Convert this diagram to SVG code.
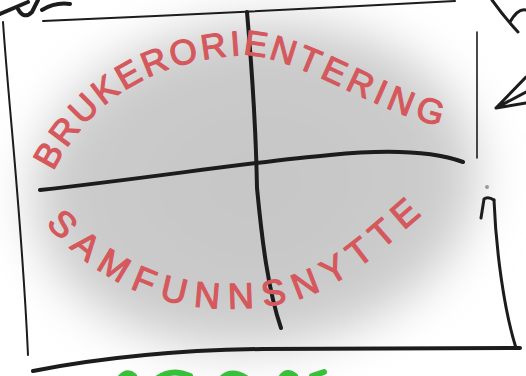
<svg xmlns="http://www.w3.org/2000/svg" width="526" height="376" viewBox="0 0 526 376">
  <style>
    .ink { fill: none; stroke: #1c1c1c; stroke-linecap: round; stroke-linejoin: round; }
    .thin { stroke-width: 2; }
    .mid { stroke-width: 3; }
    .thick { stroke-width: 4; }
    .label { font-family: "Liberation Sans", "DejaVu Sans", sans-serif; fill: #d5585c; stroke: #d5585c; stroke-width: 1.2; stroke-linejoin: round; font-size: 35px; dominant-baseline: central; }
    .green { fill: none; stroke: #38c03a; stroke-width: 6; stroke-linecap: round; }
  </style>
  <defs>
    <filter id="blur" x="-30%" y="-30%" width="160%" height="160%">
      <feGaussianBlur stdDeviation="24"/>
    </filter>
    <radialGradient id="greyGrad" cx="0.5" cy="0.5" r="0.5">
      <stop offset="0" stop-color="#c6c6c6"/>
      <stop offset="0.8" stop-color="#cbcbcb"/>
      <stop offset="1" stop-color="#d4d4d4"/>
    </radialGradient>
    <path id="arcTop" d="M 42,165 C 80,90 150,45 250,42 C 310,48 380,100 446,114"/>
    <path id="arcBottom" d="M 55,215 C 110,275 170,300 250,295 C 330,290 370,240 422,198"/>
  </defs>

  <rect width="526" height="376" fill="#ffffff"/>

  <!-- grey blurred ellipse -->
  <ellipse cx="255" cy="185" rx="225" ry="165" fill="url(#greyGrad)" filter="url(#blur)" transform="rotate(-6 255 185)"/>

  <!-- frame -->
  <g id="frame">
    <path class="ink thin" d="M 43,21 Q 250,12 455,1"/>
    <path class="ink thin" d="M 3,22 C 9,110 22,220 28,355"/>
    <path class="ink" style="stroke-width:1.6" d="M 477,32 L 477,158"/>
    <path class="ink mid" d="M 494,200 C 496,250 504,310 516,348"/>
    <path class="ink thick" d="M 33,371 C 100,358 180,350 263,349 L 520,348"/>
  </g>

  <!-- cross lines -->
  <g id="connectors">
    <path class="ink thick" d="M 247,12 C 252,70 256,130 257,188 C 262,240 268,290 281,328"/>
    <path class="ink thick" d="M 40,190 C 150,178 250,162 330,155 C 380,150 430,150 463,162"/>
  </g>

  <!-- labels -->
  <g id="brukerorientering">
    <text class="label" textLength="462" lengthAdjust="spacing"><textPath href="#arcTop">BRUKERORIENTERING</textPath></text>
  </g>
  <g id="samfunnsnytte">
    <text class="label" style="font-size:36px" textLength="410" lengthAdjust="spacing"><textPath href="#arcBottom">SAMFUNNSNYTTE</textPath></text>
  </g>

  <!-- fragments at edges -->
  <g id="fragments">
    <path class="ink thick" d="M 0,14 L 28,2 M 18,9 Q 24,20 32,12 L 38,0 M 42,10 Q 55,2 70,4"/>
    <path class="ink mid" d="M 492,0 Q 505,18 518,32 M 510,22 Q 518,8 526,10"/>
    <path class="ink mid" d="M 526,77 L 496,108 L 526,92 M 496,108 L 526,103"/>
    <path class="ink mid" d="M 481,218 L 484,199 Q 488,196 494,200"/>
    <circle cx="487" cy="187" r="2" fill="#9a9a9a"/>
    <path class="green" d="M 120,378 Q 127,370 134,376 M 158,378 Q 172,368 190,376 M 222,378 Q 232,369 246,378 M 281,378 Q 287,369 295,376 M 312,376 L 324,372"/>
  </g>
</svg>
